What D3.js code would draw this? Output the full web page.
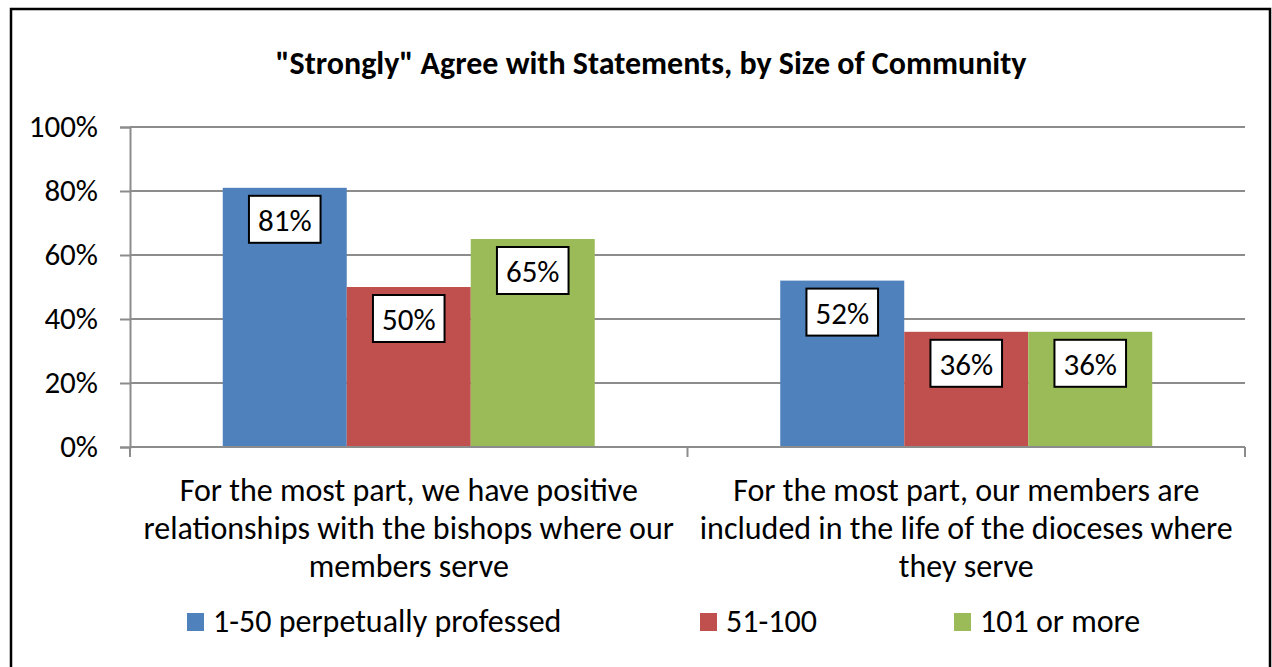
<!DOCTYPE html>
<html>
<head>
<meta charset="utf-8">
<script src="https://cdn.jsdelivr.net/npm/d3@7"></script>
<style>
  html, body { margin: 0; padding: 0; background: #fff; }
  svg { display: block; }
  text { font-family: Carlito, Calibri, Lato, "Open Sans", sans-serif; fill: #000; }
</style>
</head>
<body>
<svg id="chart" width="1272" height="667"></svg>
<script>
// Chart data
const title = "\"Strongly\" Agree with Statements, by Size of Community";
const categories = [
  ["For the most part, we have positive", "relationships with the bishops where our", "members serve"],
  ["For the most part, our members are", "included in the life of the dioceses where", "they serve"]
];
const seriesNames = ["1-50 perpetually professed", "51-100", "101 or more"];
const seriesColors = ["#4F81BD", "#C0504D", "#9BBB59"];
const values1to50 = [0.81, 0.52];
const values51to100 = [0.50, 0.36];
const values101plus = [0.65, 0.36];
const yTicks = [0, 0.2, 0.4, 0.6, 0.8, 1.0];

const seriesValues = [values1to50, values51to100, values101plus];

const svg = d3.select("#chart");
const fontSize = 32;

// Outer frame
svg.append("rect")
  .attr("x", 11).attr("y", 9).attr("width", 1259).attr("height", 680)
  .attr("fill", "none").attr("stroke", "#000").attr("stroke-width", 2.5);

// Title
svg.append("text")
  .attr("x", 651).attr("y", 74)
  .attr("text-anchor", "middle")
  .attr("font-weight", "bold")
  .attr("font-size", 32)
  .text(title);

// Plot area
const plot = { left: 130, right: 1245, top: 127, bottom: 447 };

const x0 = d3.scaleBand()
  .domain(d3.range(categories.length))
  .range([plot.left, plot.right])
  .paddingInner(0).paddingOuter(0);

const x1 = d3.scaleBand()
  .domain(d3.range(seriesNames.length))
  .range([0, x0.bandwidth()])
  .paddingOuter(0.748).paddingInner(0);

const y = d3.scaleLinear().domain([0, 1]).range([plot.bottom, plot.top]);

const gridColor = "#8c8c8c";

// Gridlines
svg.append("g")
  .selectAll("line")
  .data(yTicks.filter(t => t > 0))
  .join("line")
  .attr("x1", plot.left).attr("x2", plot.right)
  .attr("y1", d => y(d)).attr("y2", d => y(d))
  .attr("stroke", gridColor).attr("stroke-width", 2);

// Y axis
const yAxis = svg.append("g")
  .attr("transform", `translate(${plot.left},0)`)
  .call(d3.axisLeft(y).tickValues(yTicks).tickFormat(d3.format(".0%")).tickSize(10).tickPadding(22));
yAxis.select(".domain").attr("stroke", gridColor).attr("stroke-width", 2);
yAxis.selectAll(".tick line").attr("stroke", gridColor).attr("stroke-width", 2);
yAxis.selectAll(".tick text")
  .attr("font-size", 31)
  .attr("font-family", null)
  .attr("fill", "#000");

// Bars
const groups = svg.append("g")
  .selectAll("g")
  .data(categories.map((c, i) => i))
  .join("g")
  .attr("transform", i => `translate(${x0(i)},0)`);

groups.selectAll("rect")
  .data(i => seriesValues.map((vals, s) => ({ s, v: vals[i] })))
  .join("rect")
  .attr("x", d => x1(d.s))
  .attr("width", x1.bandwidth())
  .attr("y", d => y(d.v))
  .attr("height", d => y(0) - y(d.v))
  .attr("fill", d => seriesColors[d.s]);

// X axis (baseline and group ticks)
const xAxisG = svg.append("g");
xAxisG.append("line")
  .attr("x1", plot.left).attr("x2", plot.right)
  .attr("y1", plot.bottom).attr("y2", plot.bottom)
  .attr("stroke", gridColor).attr("stroke-width", 2);
const boundaries = [plot.left].concat(categories.map((c, i) => x0(i) + x0.bandwidth()));
xAxisG.selectAll("line.tick")
  .data(boundaries)
  .join("line")
  .attr("class", "tick")
  .attr("x1", d => d).attr("x2", d => d)
  .attr("y1", plot.bottom).attr("y2", plot.bottom + 10)
  .attr("stroke", gridColor).attr("stroke-width", 2);

// Data labels in boxed callouts
groups.each(function(i) {
  const g = d3.select(this);
  seriesValues.forEach((vals, s) => {
    const v = vals[i];
    const cx = x1(s) + x1.bandwidth() / 2;
    const top = y(v) + 8;
    const lbl = g.append("g");
    const t = lbl.append("text")
      .attr("x", cx).attr("y", top + 35)
      .attr("text-anchor", "middle")
      .attr("font-size", 31)
      .text(d3.format(".0%")(v));
    const w = t.node().getComputedTextLength() + 18;
    lbl.insert("rect", "text")
      .attr("x", cx - w / 2).attr("y", top)
      .attr("width", w).attr("height", 47)
      .attr("fill", "#fff").attr("stroke", "#000").attr("stroke-width", 2);
  });
});

// Category labels
svg.append("g")
  .selectAll("text")
  .data(categories)
  .join("text")
  .attr("x", (d, i) => x0(i) + x0.bandwidth() / 2)
  .attr("y", 501)
  .attr("text-anchor", "middle")
  .attr("font-size", fontSize)
  .selectAll("tspan")
  .data(d => d)
  .join("tspan")
  .attr("x", function() { return d3.select(this.parentNode).attr("x"); })
  .attr("dy", (d, j) => j === 0 ? 0 : 38)
  .text(d => d);

// Legend
const legendX = [187, 700, 954];
const legend = svg.append("g")
  .selectAll("g")
  .data(seriesNames)
  .join("g")
  .attr("transform", (d, i) => `translate(${legendX[i]},613)`);
legend.append("rect")
  .attr("width", 17).attr("height", 18)
  .attr("fill", (d, i) => seriesColors[i]);
legend.append("text")
  .attr("x", 26).attr("y", 19)
  .attr("font-size", fontSize)
  .text(d => d);
</script>
</body>
</html>
